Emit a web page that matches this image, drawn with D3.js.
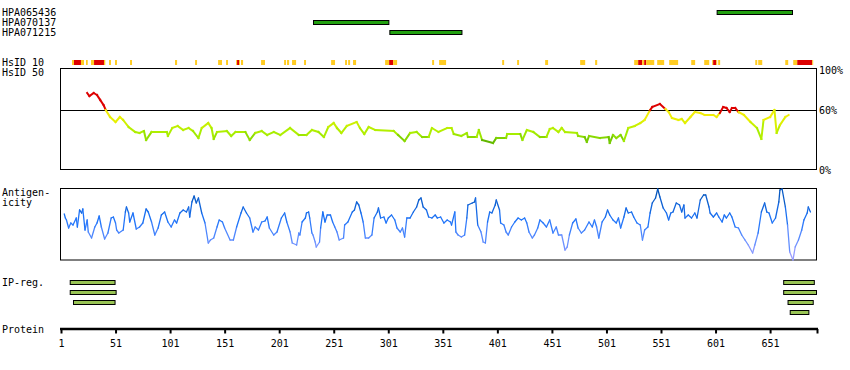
<!DOCTYPE html>
<html>
<head>
<meta charset="utf-8">
<script src="https://cdn.jsdelivr.net/npm/d3@7"></script>
<style>
html,body{margin:0;padding:0;background:#fff;}
svg{display:block;}
text{font-family:"DejaVu Sans Mono",monospace;font-size:10px;fill:#000;}
</style>
</head>
<body>
<svg id="chart" width="850" height="370"></svg>
<script>
// ---------------- DATA ----------------
const proteinLength = 693;
const tickValues = [1, 51, 101, 151, 201, 251, 301, 351, 401, 451, 501, 551, 601, 651];

const antibodyNames = ["HPA065436", "HPA070137", "HPA071215"];
const antibodyStart = [602, 232, 302];
const antibodyEnd = [671, 301, 368];

// HsID 10 identity blocks (1 = yellow, 2 = red)
const hsid10Start = [11.1,12.9,19.3,23.9,28.5,31.3,40.4,45.0,50.5,64.3,105.5,123.9,145.0,152.3,161.5,162.4,164.2,166.0,184.4,205.5,208.2,212.8,223.8,248.6,261.4,264.2,268.7,298.1,301.8,305.4,341.2,347.6,405.4,419.1,444.8,476.9,490.6,526.4,530.1,533.7,535.6,537.4,547.5,558.5,578.7,590.6,597.9,598.8,601.6,603.4,637.4,640.1,664.9,672.2,675.9,689.6];
const hsid10End   = [12.9,19.3,22.1,25.5,31.3,40.4,41.6,46.8,52.3,66.1,107.4,125.7,148.6,154.1,162.4,164.2,165.1,167.9,188.0,207.3,210.1,216.5,225.6,252.2,263.2,266.0,271.5,301.8,305.4,309.1,343.0,354.0,407.2,420.9,447.5,481.5,492.5,530.1,533.7,535.6,537.4,544.8,553.9,566.7,582.3,595.2,598.8,601.6,602.5,605.2,639.2,643.8,667.6,675.9,689.6,690.5];
const hsid10Level = [1,2,1,1,1,2,1,1,1,1,1,1,1,1,1,2,1,1,1,1,1,1,1,1,1,1,1,1,2,1,1,1,1,1,1,1,1,1,2,1,2,1,1,1,1,1,1,2,1,1,1,1,1,1,2,1];

// HsID 50 identity (%) by residue
const hsid50Residue = [25,27,31,34,37,40,42,46,51,55,58,63,69,73,77,79,84,98,99,103,108,113,118,122,127,130,136,139,141,144,153,157,161,170,174,179,185,190,196,202,211,219,226,231,237,242,246,251,254,258,263,272,275,279,283,289,306,310,316,321,327,332,338,341,347,355,359,361,368,373,374,382,384,387,397,400,409,410,422,424,428,434,440,446,449,452,457,460,463,474,475,481,483,485,495,503,504,507,510,514,517,521,527,532,536,541,543,550,555,558,561,567,570,573,578,582,587,591,599,602,605,608,611,614,616,619,622,627,633,639,643,645,651,655,657,660,665,668];
const hsid50Value   = [77,74,77,75,70,65,60,53,48,53,50,43,38,37,39,30,38,38,34,42,44,40,42,39,32,42,47,42,31,38,39,34,38,38,30,37,39,35,38,35,42,35,35,40,38,33,43,47,42,37,44,48,42,36,43,40,39,35,29,37,38,33,33,42,38,42,42,36,34,37,33,33,40,30,27,32,32,36,36,30,40,38,33,33,41,42,38,42,38,37,34,33,28,34,32,33,27,35,32,35,29,42,44,47,50,60,63,66,61,58,52,50,51,47,53,58,57,55,55,53,57,63,62,58,62,62,58,55,48,42,31,50,53,60,37,45,53,55];

// Antigenicity score by residue
const antiResidue = [4,5,6,8,10,12,15,16,18,20,21,23,25,26,29,32,34,36,38,41,44,47,49,51,52,54,58,60,61,63,64,67,70,73,76,79,81,84,87,90,93,96,99,102,105,107,110,113,116,118,119,121,123,125,127,130,133,136,138,141,144,146,149,151,156,159,162,166,168,171,174,177,179,182,185,188,190,192,196,199,203,206,208,211,213,217,219,220,222,225,226,228,229,231,232,234,235,238,239,241,243,245,248,250,252,254,256,260,261,264,268,270,272,274,276,278,280,283,286,288,291,292,294,297,299,301,304,307,309,312,314,316,318,321,324,327,329,331,333,336,338,341,344,346,349,352,355,358,359,362,363,365,368,371,373,374,378,380,381,383,386,388,390,392,394,396,399,400,403,404,407,409,411,414,417,420,423,426,428,430,433,435,438,440,443,446,449,452,455,457,460,463,465,467,470,473,475,478,481,485,488,490,492,494,497,500,502,504,507,510,512,514,517,519,521,524,526,529,532,534,536,539,541,543,546,548,550,553,556,558,560,562,565,568,570,572,573,576,579,582,584,587,590,592,595,596,599,602,604,607,609,611,614,616,619,622,625,628,631,635,637,640,643,646,648,650,653,656,659,660,662,665,667,669,672,674,677,680,682,685,686,688];
const antiValue   = [46,42,40,32,37,35,42,33,50,47,51,30,40,28,22,33,37,44,33,21,27,42,43,37,30,27,30,48,53,47,38,47,31,33,37,51,48,38,25,32,45,48,38,33,40,37,47,50,48,53,43,58,64,57,62,47,37,17,20,22,33,40,38,32,20,20,33,47,53,47,42,28,33,30,38,39,43,32,25,28,42,47,38,28,17,15,27,25,38,42,47,48,42,27,25,18,13,18,32,48,38,45,45,38,33,28,20,22,35,38,48,50,58,55,47,38,22,22,25,42,48,52,42,43,37,42,45,40,32,28,32,23,42,42,48,53,60,62,53,50,43,42,45,42,43,37,40,38,35,48,28,25,23,25,42,55,57,58,62,35,28,18,17,38,48,47,55,60,50,37,35,28,25,33,38,42,40,42,37,28,22,25,32,40,37,33,40,27,33,25,25,10,13,25,37,41,32,27,30,38,33,40,33,22,38,43,50,45,40,37,42,32,43,52,47,48,43,37,35,20,30,33,47,57,62,71,63,52,47,40,47,48,57,55,48,55,42,45,42,47,42,60,65,65,53,47,43,47,43,38,45,42,47,43,33,32,25,20,15,7,15,27,48,57,48,47,37,42,58,70,71,53,35,8,0,13,20,30,40,47,53,48];

// IP regions
const ipStart = [9, 9, 12, 663, 663, 667, 669];
const ipEnd   = [51, 52, 51, 692, 694, 691, 687];
const ipRow   = [0, 1, 2, 0, 1, 2, 3];

// ---------------- DRAW ----------------
const svg = d3.select("#chart");
svg.append("rect").attr("width", 850).attr("height", 370).attr("fill", "#fff");

const x = d3.scaleLinear().domain([1, proteinLength + 1]).range([61, 817]);

// Antibody labels and bars
const abY = d3.scaleBand().domain(antibodyNames).range([8, 38]);
antibodyNames.forEach((n, i) => {
  svg.append("text").attr("x", 2).attr("y", abY(n) + 8).text(n);
  svg.append("rect")
    .attr("x", x(antibodyStart[i]) + 0.5)
    .attr("y", abY(n) + 2.5)
    .attr("width", x(antibodyEnd[i] + 1) - x(antibodyStart[i]) - 1)
    .attr("height", 4)
    .attr("fill", "#22A010").attr("stroke", "#000").attr("stroke-width", 1);
});

// HsID 10
svg.append("text").attr("x", 2).attr("y", 66).text("HsID 10");
svg.append("text").attr("x", 2).attr("y", 76).text("HsID 50");
hsid10Start.forEach((s, i) => {
  svg.append("rect")
    .attr("x", x(s)).attr("y", 60)
    .attr("width", Math.max(1, x(hsid10End[i]) - x(s)))
    .attr("height", 5)
    .attr("fill", hsid10Level[i] === 2 ? "#DD0000" : "#FFCC22");
});

// HsID 50 panel
const yH = d3.scaleLinear().domain([0, 100]).range([170, 70]);
svg.append("rect").attr("x", 60.5).attr("y", 68.5).attr("width", 756).attr("height", 101)
  .attr("fill", "none").attr("stroke", "#000").attr("stroke-width", 1);
svg.append("line").attr("x1", 60).attr("x2", 817).attr("y1", Math.round(yH(60)) + 0.5).attr("y2", Math.round(yH(60)) + 0.5)
  .attr("stroke", "#000").attr("stroke-width", 1);
[[100, "100%"], [60, "60%"], [0, "0%"]].forEach(([v, t]) => {
  svg.append("text").attr("x", 819).attr("y", yH(v) + 4).text(t);
});
const hColor = v => {
  if (v >= 60) return "#DD0000";
  return d3.scaleLinear().domain([27, 31, 36, 45, 52, 59])
    .range(["#55AA00", "#77CC00", "#A6EE00", "#C8F000", "#EEF000", "#F4EC10"]).clamp(true)(v);
};
const hLine = d3.line().x(d => x(d[0])).y(d => yH(d[1]));
for (let i = 0; i < hsid50Residue.length - 1; i++) {
  const a = [hsid50Residue[i], hsid50Value[i]], b = [hsid50Residue[i + 1], hsid50Value[i + 1]];
  svg.append("path").attr("d", hLine([a, b])).attr("fill", "none")
    .attr("stroke", hColor((a[1] + b[1]) / 2)).attr("stroke-width", 2).attr("stroke-linecap", "square");
}

// Antigenicity panel
svg.append("text").attr("x", 2).attr("y", 196).text("Antigen-");
svg.append("text").attr("x", 2).attr("y", 206).text("icity");
const yA = d3.scaleLinear().domain([0, 72]).range([260, 188]);
svg.append("rect").attr("x", 60.5).attr("y", 188.5).attr("width", 756).attr("height", 71.5)
  .attr("fill", "none").attr("stroke", "#000").attr("stroke-width", 1);
const aColor = d3.scaleLinear().domain([0, 20, 40, 72])
  .range(["#A8A0FF", "#6690FF", "#1E74FA", "#0050B0"]).clamp(true);
const aLine = d3.line().x(d => x(d[0])).y(d => yA(d[1]));
for (let i = 0; i < antiResidue.length - 1; i++) {
  const a = [antiResidue[i], antiValue[i]], b = [antiResidue[i + 1], antiValue[i + 1]];
  svg.append("path").attr("d", aLine([a, b])).attr("fill", "none")
    .attr("stroke", aColor((a[1] + b[1]) / 2)).attr("stroke-width", 1.3).attr("stroke-linecap", "round");
}

// IP regions
svg.append("text").attr("x", 2).attr("y", 286).text("IP-reg.");
ipStart.forEach((s, i) => {
  svg.append("rect")
    .attr("x", x(s) + 0.5).attr("y", 280.5 + ipRow[i] * 10)
    .attr("width", x(ipEnd[i]) - x(s) - 1).attr("height", 4)
    .attr("fill", "#99C455").attr("stroke", "#000").attr("stroke-width", 1);
});

// Protein axis
svg.append("text").attr("x", 2).attr("y", 333).text("Protein");
const axisG = svg.append("g").attr("transform", "translate(0,329)");
axisG.append("line").attr("x1", 60).attr("x2", 818).attr("y1", 0).attr("y2", 0)
  .attr("stroke", "#000").attr("stroke-width", 2.5);
const axis = d3.axisBottom(x).tickValues(tickValues.concat([proteinLength + 1]))
  .tickFormat(d => tickValues.includes(d) ? d : "").tickSize(4.5).tickPadding(6);
axisG.call(axis);
axisG.select(".domain").remove();
axisG.selectAll(".tick line").attr("stroke", "#000").attr("stroke-width", 2);
axisG.selectAll(".tick text").attr("font-family", "DejaVu Sans Mono").attr("font-size", 10).attr("fill", "#000");
</script>
</body>
</html>
